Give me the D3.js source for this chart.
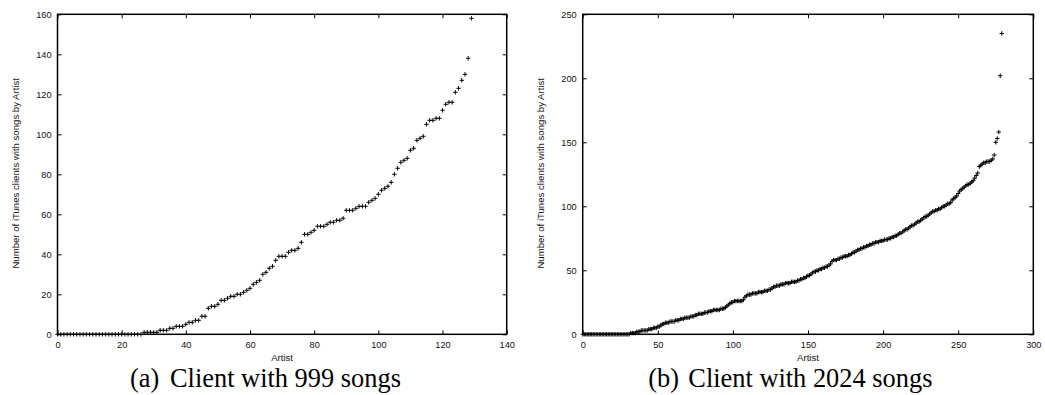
<!DOCTYPE html>
<html>
<head>
<meta charset="utf-8">
<script src="https://cdn.jsdelivr.net/npm/d3@7"></script>
<style>
  html, body { margin: 0; padding: 0; background: #fff; }
  svg { display: block; }
  .tick text { font-family: "Liberation Sans", Arial, sans-serif; font-size: 9.2px; fill: #111; }
  .axis-title { font-family: "Liberation Sans", Arial, sans-serif; font-size: 9.6px; fill: #111; }
  .caption { font-family: "Liberation Serif", "Times New Roman", serif; font-size: 26.4px; fill: #000; }
</style>
</head>
<body>
<svg id="chart" width="1045" height="395"></svg>
<script>
// Client with 999 songs: number of iTunes clients sharing each artist, sorted ascending
const artistsA = [
  0,0,0,0,0,0,0,0,0,0, 0,0,0,0,0,0,0,0,0,0, 0,0,0,0,0,0,0,
  1,1,1,1,1, 2,2,2, 3,3, 4,4,4, 5, 6,6, 7,7, 9,9,
  13, 14,14, 15, 17,17, 18, 19,19, 20,20, 21, 22, 23, 25, 26, 27, 30, 31, 33, 34,
  37, 39,39,39, 41, 42,42, 43, 46, 50,50, 51, 52, 54,54,54, 55, 56,56, 57,57, 58,
  62,62,62, 63, 64,64,64, 66, 67, 68, 70, 72, 73, 74, 76,
  80, 83, 86, 87, 88, 92, 93, 97, 98, 99, 105, 107,107, 108,108, 112, 115, 116,116,
  121, 123, 127, 130, 138, 158
];

// Client with 2024 songs
const artistsB = [
  0,0,0,0,0,0,0,0,0,0, 0,0,0,0,0,0,0,0,0,0, 0,0,0,0,0,0,0,0,0,0, 0,0,
  1,1,1,1, 2,2,2, 3,3,3,3,3, 4,4,4, 5,5,5, 6,6, 7, 8,8, 9,9,9,
  10,10,10,10, 11,11,11, 12,12,12, 13,13,13,13, 14,14,14, 15,15, 16,16,16,16,
  17,17,17, 18,18,18, 19,19,19,19,19, 20,20,20, 21, 22, 23, 24, 25,25,
  26,26,26,26,26,26, 27, 29, 30, 31,31,31, 32,32,32,32, 33,33,33,33, 34,34,34,
  35,35, 36, 37,37, 38,38,38, 39,39,39, 40,40,40,40, 41,41,41,41, 42,42, 43,43,
  44,44, 45, 46,46, 47, 48, 49,49, 50,50, 51,51, 52,52, 53,53, 54, 55, 57,
  58,58,58, 59,59, 60,60, 61,61,61, 62,62, 63, 64,64, 65, 66,66, 67,67, 68,68,
  69,69, 70,70, 71,71, 72,72,72, 73,73,73, 74,74,74, 75,75, 76,76, 77,77, 78,
  79,79, 80, 81, 82,82, 83, 84, 85,85, 86, 87, 88,88, 89, 90, 91, 92,92, 93, 94,
  95, 96,96, 97,97, 98,98, 99, 100,100, 101, 102,102, 103, 105, 106, 107, 108,
  110, 112, 113, 114, 115, 116, 117,117, 118, 119, 120, 122, 124, 126, 131, 132,
  133, 134,134, 135,135,135, 136, 137, 140, 150, 153, 158, 202, 235
];

const xTicksA = [0, 20, 40, 60, 80, 100, 120, 140];
const yTicksA = [0, 20, 40, 60, 80, 100, 120, 140, 160];
const xTicksB = [0, 50, 100, 150, 200, 250, 300];
const yTicksB = [0, 50, 100, 150, 200, 250];

const yTitle = "Number of iTunes clients with songs by Artist";
const xTitle = "Artist";

const svg = d3.select("#chart");

function panel(opts) {
  const { left, right, top, bottom, values, xTicks, yTicks, tag, caption, capX } = opts;
  const x = d3.scaleLinear().domain([xTicks[0], xTicks[xTicks.length - 1]]).range([left, right]);
  const y = d3.scaleLinear().domain([yTicks[0], yTicks[yTicks.length - 1]]).range([bottom, top]);
  const g = svg.append("g");

  // inward ticks on all four sides, labels on bottom and left only
  const axes = [
    [d3.axisBottom(x).tickValues(xTicks).tickSize(-4).tickPadding(7.2), `translate(0,${bottom})`],
    [d3.axisTop(x).tickValues(xTicks).tickSize(-4).tickFormat(""), `translate(0,${top})`],
    [d3.axisLeft(y).tickValues(yTicks).tickSize(-4).tickPadding(6), `translate(${left},0)`],
    [d3.axisRight(y).tickValues(yTicks).tickSize(-4).tickFormat(""), `translate(${right},0)`]
  ];
  axes.forEach(([ax, tr]) => {
    const a = g.append("g").attr("transform", tr).call(ax);
    a.select(".domain").remove();
    a.selectAll(".tick line").attr("stroke", "#000").attr("stroke-width", 1);
  });

  // plot frame
  g.append("rect")
    .attr("x", left).attr("y", top)
    .attr("width", right - left).attr("height", bottom - top)
    .attr("fill", "none").attr("stroke", "#000").attr("stroke-width", 1.5);

  // "+" markers
  const s = 2.2;
  g.append("path")
    .attr("fill", "none").attr("stroke", "#000").attr("stroke-width", 1)
    .attr("d", values.map((v, i) => {
      const px = x(i), py = y(v);
      return `M${px - s},${py}H${px + s}M${px},${py - s}V${py + s}`;
    }).join(""));

  // axis titles
  g.append("text").attr("class", "axis-title")
    .attr("x", (left + right) / 2).attr("y", 361.2)
    .attr("text-anchor", "middle").text(xTitle);
  g.append("text").attr("class", "axis-title")
    .attr("transform", `translate(${left - 39},${(top + bottom) / 2 - 1}) rotate(-90)`)
    .attr("text-anchor", "middle").text(yTitle);

  // sub-figure caption
  const c = g.append("text").attr("class", "caption").attr("y", 386.6);
  c.append("tspan").attr("x", capX).text(tag);
  c.append("tspan").attr("x", capX + 40).text(caption);
}

panel({
  left: 57.5, right: 506.7, top: 14.3, bottom: 334.3,
  values: artistsA, xTicks: xTicksA, yTicks: yTicksA,
  tag: "(a)", caption: "Client with 999 songs", capX: 130
});
panel({
  left: 582.7, right: 1033.3, top: 14.3, bottom: 334.3,
  values: artistsB, xTicks: xTicksB, yTicks: yTicksB,
  tag: "(b)", caption: "Client with 2024 songs", capX: 648.3
});
</script>
</body>
</html>
